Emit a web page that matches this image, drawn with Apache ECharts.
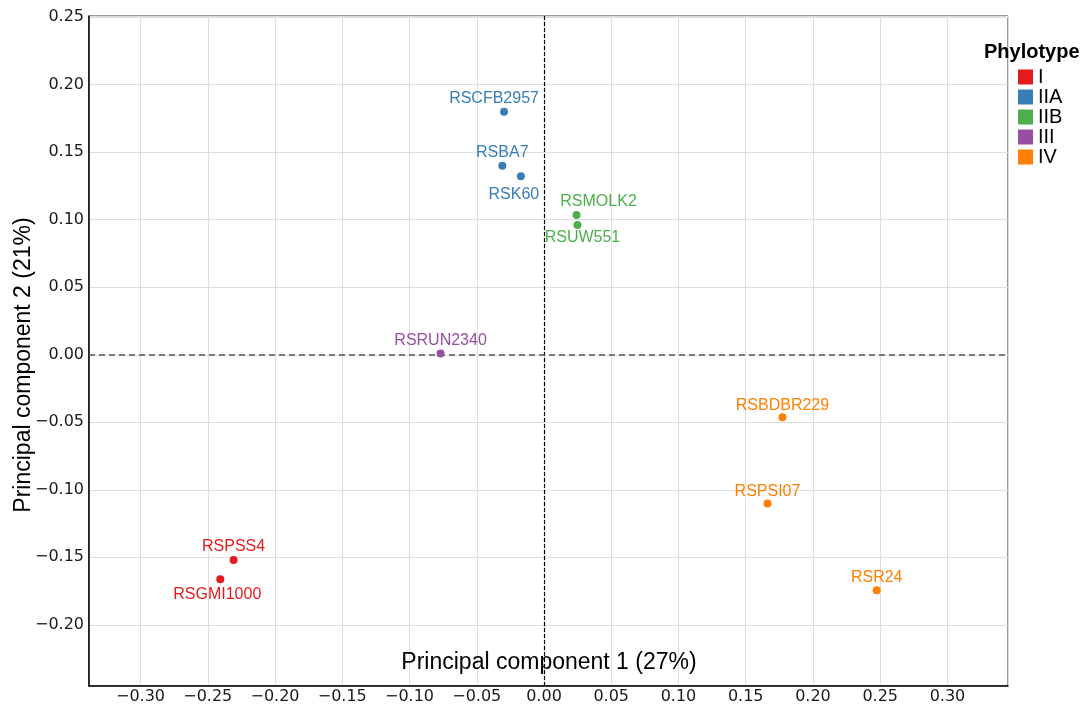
<!DOCTYPE html>
<html>
<head>
<meta charset="utf-8">
<title>PCA of Ralstonia strains</title>
<script src="https://cdn.jsdelivr.net/npm/echarts@6/dist/echarts.min.js"></script>
<style>
  html, body { margin: 0; padding: 0; background: #ffffff; }
  #chart { width: 1084px; height: 705px; }
</style>
</head>
<body>
<div id="chart"></div>
<script>
// Strain scores on the first two principal components
const strains   = ['RSCFB2957', 'RSBA7', 'RSK60', 'RSMOLK2', 'RSUW551', 'RSRUN2340',
                   'RSBDBR229', 'RSPSI07', 'RSR24', 'RSPSS4', 'RSGMI1000'];
const pc1       = [-0.0297, -0.0310, -0.0172, 0.0242, 0.0249, -0.0769,
                    0.1773, 0.1662, 0.2474, -0.2308, -0.2407];
const pc2       = [0.1800, 0.1400, 0.1322, 0.1036, 0.0962, 0.0009,
                   -0.0462, -0.1101, -0.1744, -0.1519, -0.1663];
const phylotype = ['IIA', 'IIA', 'IIA', 'IIB', 'IIB', 'III',
                   'IV', 'IV', 'IV', 'I', 'I'];

const groups = ['I', 'IIA', 'IIB', 'III', 'IV'];
const groupColors = ['#E41A1C', '#377EB8', '#4DAF4A', '#984EA3', '#FF7F00'];

// Text label nudges (pixels) so the names sit clear of their points
const labelNudge = {
  RSCFB2957: [-10, -13], RSBA7: [0, -13], RSK60: [-7, 18],
  RSMOLK2: [22, -13], RSUW551: [5, 13], RSRUN2340: [0, -13],
  RSBDBR229: [0, -12], RSPSI07: [0, -12], RSR24: [0, -13],
  RSPSS4: [0, -13], RSGMI1000: [-3, 15]
};

const sans = '"Liberation Sans", Arial, Helvetica, sans-serif';
const tickFont = '"DejaVu Sans", Verdana, sans-serif';

// Axis limits: data range padded by 20% on each side
function paddedRange(vals) {
  const lo = Math.min.apply(null, vals), hi = Math.max.apply(null, vals);
  const pad = (hi - lo) * 0.2;
  return [lo - pad, hi + pad];
}
const xRange = paddedRange(pc1);
const yRange = paddedRange(pc2);

function tickText(v) {
  const s = Math.abs(v).toFixed(2);
  return v < -1e-9 ? '\u2212' + s : s;
}

const series = groups.map((g, gi) => {
  const pts = [];
  strains.forEach((name, i) => {
    if (phylotype[i] !== g) return;
    const nudge = labelNudge[name] || [0, -13];
    pts.push({
      name: name,
      value: [pc1[i], pc2[i]],
      label: { offset: nudge }
    });
  });
  return {
    name: g,
    type: 'scatter',
    symbol: 'circle',
    symbolSize: 8,
    z: 5,
    itemStyle: { color: groupColors[gi], opacity: 1 },
    label: {
      show: true,
      position: 'inside',
      formatter: p => p.name,
      color: groupColors[gi],
      fontFamily: sans,
      fontSize: 16,
      align: 'center',
      verticalAlign: 'middle'
    },
    emphasis: { disabled: true },
    data: pts
  };
});

// Reference lines through the origin
series[0].markLine = {
  silent: true,
  symbol: 'none',
  animation: false,
  label: { show: false },
  data: [
    { xAxis: 0, lineStyle: { color: '#000000', width: 1.2, type: [4, 2] } },
    { yAxis: 0, lineStyle: { color: '#555555', width: 1.6, type: [6, 4] } }
  ]
};

const chart = echarts.init(document.getElementById('chart'), null, { renderer: 'canvas' });

chart.setOption({
  animation: false,
  backgroundColor: '#ffffff',
  title: {
    text: 'Phylotype',
    left: 984,
    top: 42,
    padding: 0,
    textStyle: { fontFamily: sans, fontSize: 20, lineHeight: 20, fontWeight: 'bold', color: '#000000' }
  },
  legend: {
    orient: 'vertical',
    left: 1018,
    top: 67,
    padding: 0,
    icon: 'rect',
    itemWidth: 15,
    itemHeight: 15,
    itemGap: 0,
    data: groups,
    selectedMode: false,
    textStyle: { fontFamily: sans, fontSize: 20, lineHeight: 20, color: '#000000' }
  },
  grid: {
    left: 89, top: 16, width: 919, height: 673,
    show: true, borderColor: '#333333', borderWidth: 1,
    containLabel: false
  },
  graphic: [
    {
      type: 'text',
      x: 549, y: 663,
      style: {
        text: 'Principal component 1 (27%)',
        x: 0, y: 0,
        align: 'center', verticalAlign: 'middle',
        font: '23px ' + sans, fill: '#000000'
      },
      z: 10
    },
    {
      type: 'text',
      x: 24, y: 365,
      rotation: Math.PI / 2,
      style: {
        text: 'Principal component 2 (21%)',
        x: 0, y: 0,
        align: 'center', verticalAlign: 'middle',
        font: '23px ' + sans, fill: '#000000'
      },
      z: 10
    }
  ],
  xAxis: {
    type: 'value',
    min: xRange[0],
    max: xRange[1],
    splitNumber: 14,
    axisLine: { show: true, onZero: false, lineStyle: { color: '#000000', width: 1.5 } },
    axisTick: { show: false },
    axisLabel: {
      margin: 3, fontFamily: tickFont, fontSize: 16, color: '#1a1a1a',
      showMinLabel: false, showMaxLabel: false,
      formatter: tickText
    },
    splitLine: { show: true, lineStyle: { color: '#dedede', width: 1 } }
  },
  yAxis: {
    type: 'value',
    min: yRange[0],
    max: yRange[1],
    splitNumber: 10,
    axisLine: { show: true, onZero: false, lineStyle: { color: '#000000', width: 1.5 } },
    axisTick: { show: false },
    axisLabel: {
      margin: 5, fontFamily: tickFont, fontSize: 16, color: '#1a1a1a',
      showMinLabel: false, showMaxLabel: false,
      formatter: tickText
    },
    splitLine: { show: true, lineStyle: { color: '#dedede', width: 1 } }
  },
  series: series
});
</script>
</body>
</html>
